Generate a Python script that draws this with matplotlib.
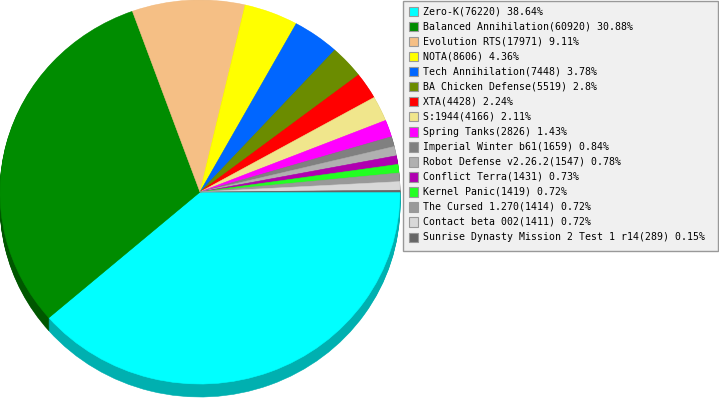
import numpy as np
import matplotlib.pyplot as plt
from matplotlib.patches import Rectangle
from matplotlib.colors import to_rgb

# data
games = ['Zero-K', 'Balanced Annihilation', 'Evolution RTS', 'NOTA',
         'Tech Annihilation', 'BA Chicken Defense', 'XTA', 'S:1944',
         'Spring Tanks', 'Imperial Winter b61', 'Robot Defense v2.26.2',
         'Conflict Terra', 'Kernel Panic', 'The Cursed 1.270',
         'Contact beta 002', 'Sunrise Dynasty Mission 2 Test 1 r14']
counts = [76220, 60920, 17971, 8606, 7448, 5519, 4428, 4166,
          2826, 1659, 1547, 1431, 1419, 1414, 1411, 289]
percents = ['38.64', '30.88', '9.11', '4.36', '3.78', '2.8', '2.24', '2.11',
            '1.43', '0.84', '0.78', '0.73', '0.72', '0.72', '0.72', '0.15']
colors = ['#00ffff', '#008c00', '#f5bf85', '#ffff00', '#0066ff', '#6b8c00',
          '#ff0000', '#f0e68c', '#ff00ff', '#808080', '#b0b0b0', '#b000b0',
          '#22ff22', '#999999', '#d8d8d8', '#666666']

W, H = 719, 400
fig = plt.figure(figsize=(W / 100, H / 100), dpi=100)

# pie axes in "radius" units, squashed into an ellipse (rx=200px, ry=192px)
ax = fig.add_axes([0, 0, 1, 1])
cx, cy, rx, ry = 200, 192, 200, 192
depth = 13 / ry

dark = [tuple(c * 0.62 for c in to_rgb(col)) for col in colors]
dark[0] = to_rgb('#00b0b0')


def draw_pie(cols, off):
    wedges, _ = ax.pie(counts, colors=cols, startangle=0, counterclock=False,
                       center=(0, -off), wedgeprops=dict(linewidth=0.4))
    for w in wedges:
        w.set_edgecolor(w.get_facecolor())


for off in np.linspace(depth, 0.004, 14):
    draw_pie(dark, off)
draw_pie(colors, 0)
ax.set_aspect('auto')
ax.set_xlim(-cx / rx, (W - cx) / rx)
ax.set_ylim(-(H - cy) / ry, cy / ry)
ax.axis('off')

# legend drawn in pixel coordinates
lg = fig.add_axes([0, 0, 1, 1])
lg.set_xlim(0, W)
lg.set_ylim(H, 0)
lg.axis('off')
lg.add_patch(Rectangle((403, 0.5), 314.5, 250, facecolor='#f0f0f0',
                       edgecolor='#999999', linewidth=1))
pitch = 15.07
for i, (name, n, p, col) in enumerate(zip(games, counts, percents, colors)):
    y = 11 + i * pitch
    lg.add_patch(Rectangle((408.5, y - 4.5), 9.5, 9.5, facecolor=col,
                           edgecolor='#999999', linewidth=0.8))
    lg.text(423, y, f'{name}({n}) {p}%', fontsize=7.1, family='DejaVu Sans Mono',
            va='center', ha='left', color='black')

fig.savefig('out.png', dpi=100)
